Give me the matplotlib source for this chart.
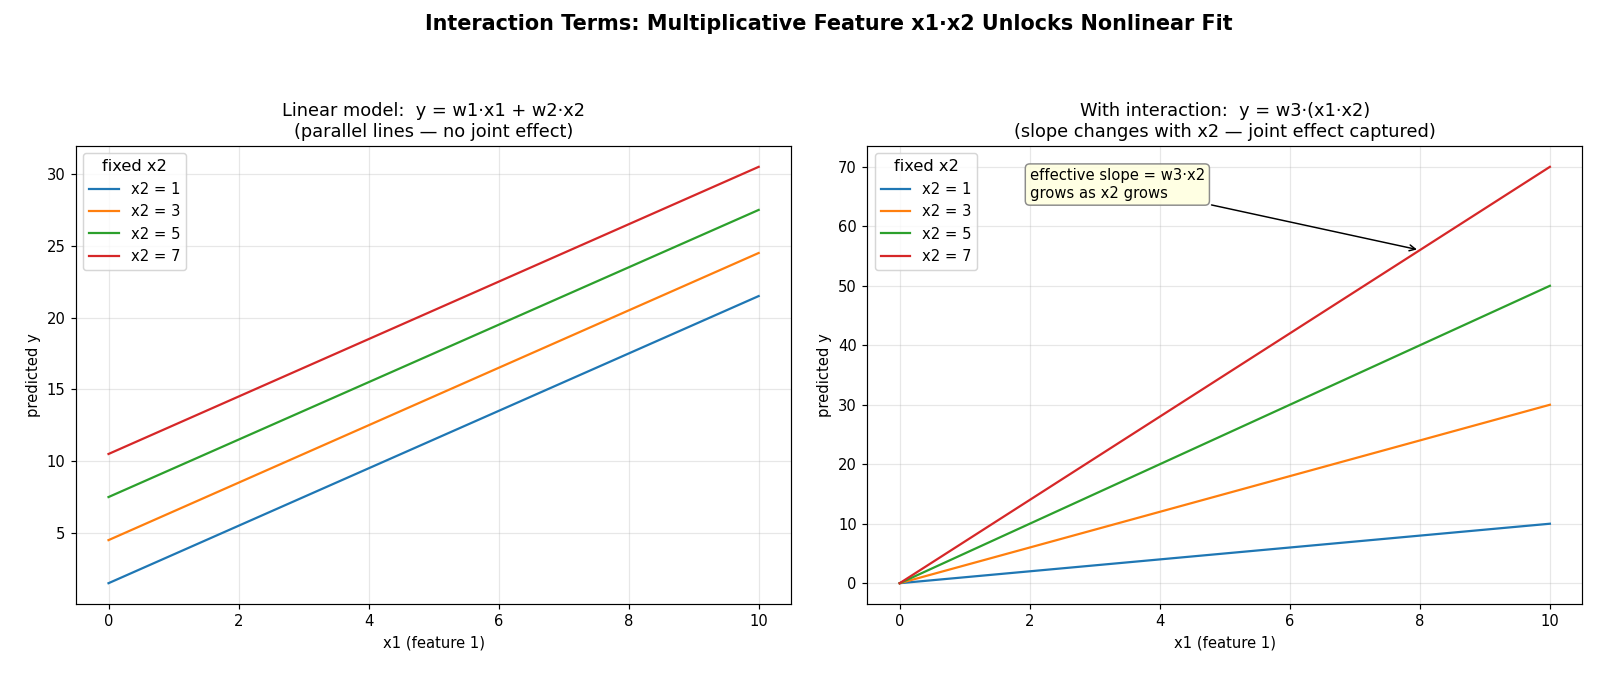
import numpy as np
import matplotlib.pyplot as plt

# x1 range (endpoints)
x1 = [0, 10]
x2_levels = [1, 3, 5, 7]

# left panel: linear model, predicted y at x1 = 0 and x1 = 10
linear_y = [
    [1.5, 21.5],
    [4.5, 24.5],
    [7.5, 27.5],
    [10.5, 30.5],
]

# right panel: interaction model, predicted y at x1 = 0 and x1 = 10
interact_y = [
    [0, 10],
    [0, 30],
    [0, 50],
    [0, 70],
]

colors = ['#1f77b4', '#ff7f0e', '#2ca02c', '#d62728']

fig = plt.figure(figsize=(15, 6.347), dpi=1600 / 15)
ax1 = fig.add_axes([0.0475, 0.1078, 0.447, 0.6765])
ax2 = fig.add_axes([0.542, 0.1078, 0.447, 0.6765])

fig.suptitle('Interaction Terms: Multiplicative Feature x1·x2 Unlocks Nonlinear Fit',
             fontsize=14, fontweight='bold', x=0.518, y=0.98)

# left: parallel lines
for lvl, ys, c in zip(x2_levels, linear_y, colors):
    ax1.plot(x1, ys, color=c, lw=1.5, label='x2 = %d' % lvl)
ax1.set_title('Linear model:  y = w1·x1 + w2·x2\n(parallel lines — no joint effect)', fontsize=12)
ax1.set_xlabel('x1 (feature 1)')
ax1.set_ylabel('predicted y')
ax1.grid(True, alpha=0.3)
ax1.legend(title='fixed x2', loc='upper left', fontsize=10, title_fontsize=11)

# right: fan of lines
for lvl, ys, c in zip(x2_levels, interact_y, colors):
    ax2.plot(x1, ys, color=c, lw=1.5, label='x2 = %d' % lvl)
ax2.set_title('With interaction:  y = w3·(x1·x2)\n(slope changes with x2 — joint effect captured)', fontsize=12)
ax2.set_xlabel('x1 (feature 1)')
ax2.set_ylabel('predicted y')
ax2.grid(True, alpha=0.3)
ax2.legend(title='fixed x2', loc='upper left', fontsize=10, title_fontsize=11)

ax2.annotate('effective slope = w3·x2\ngrows as x2 grows',
             xy=(8, 56), xytext=(2, 64.3), fontsize=10, va='bottom',
             arrowprops=dict(arrowstyle='->', color='black', lw=1),
             bbox=dict(boxstyle='round,pad=0.3', fc='lightyellow', ec='gray', alpha=0.9))

fig.savefig('out.png', dpi=1600 / 15)
